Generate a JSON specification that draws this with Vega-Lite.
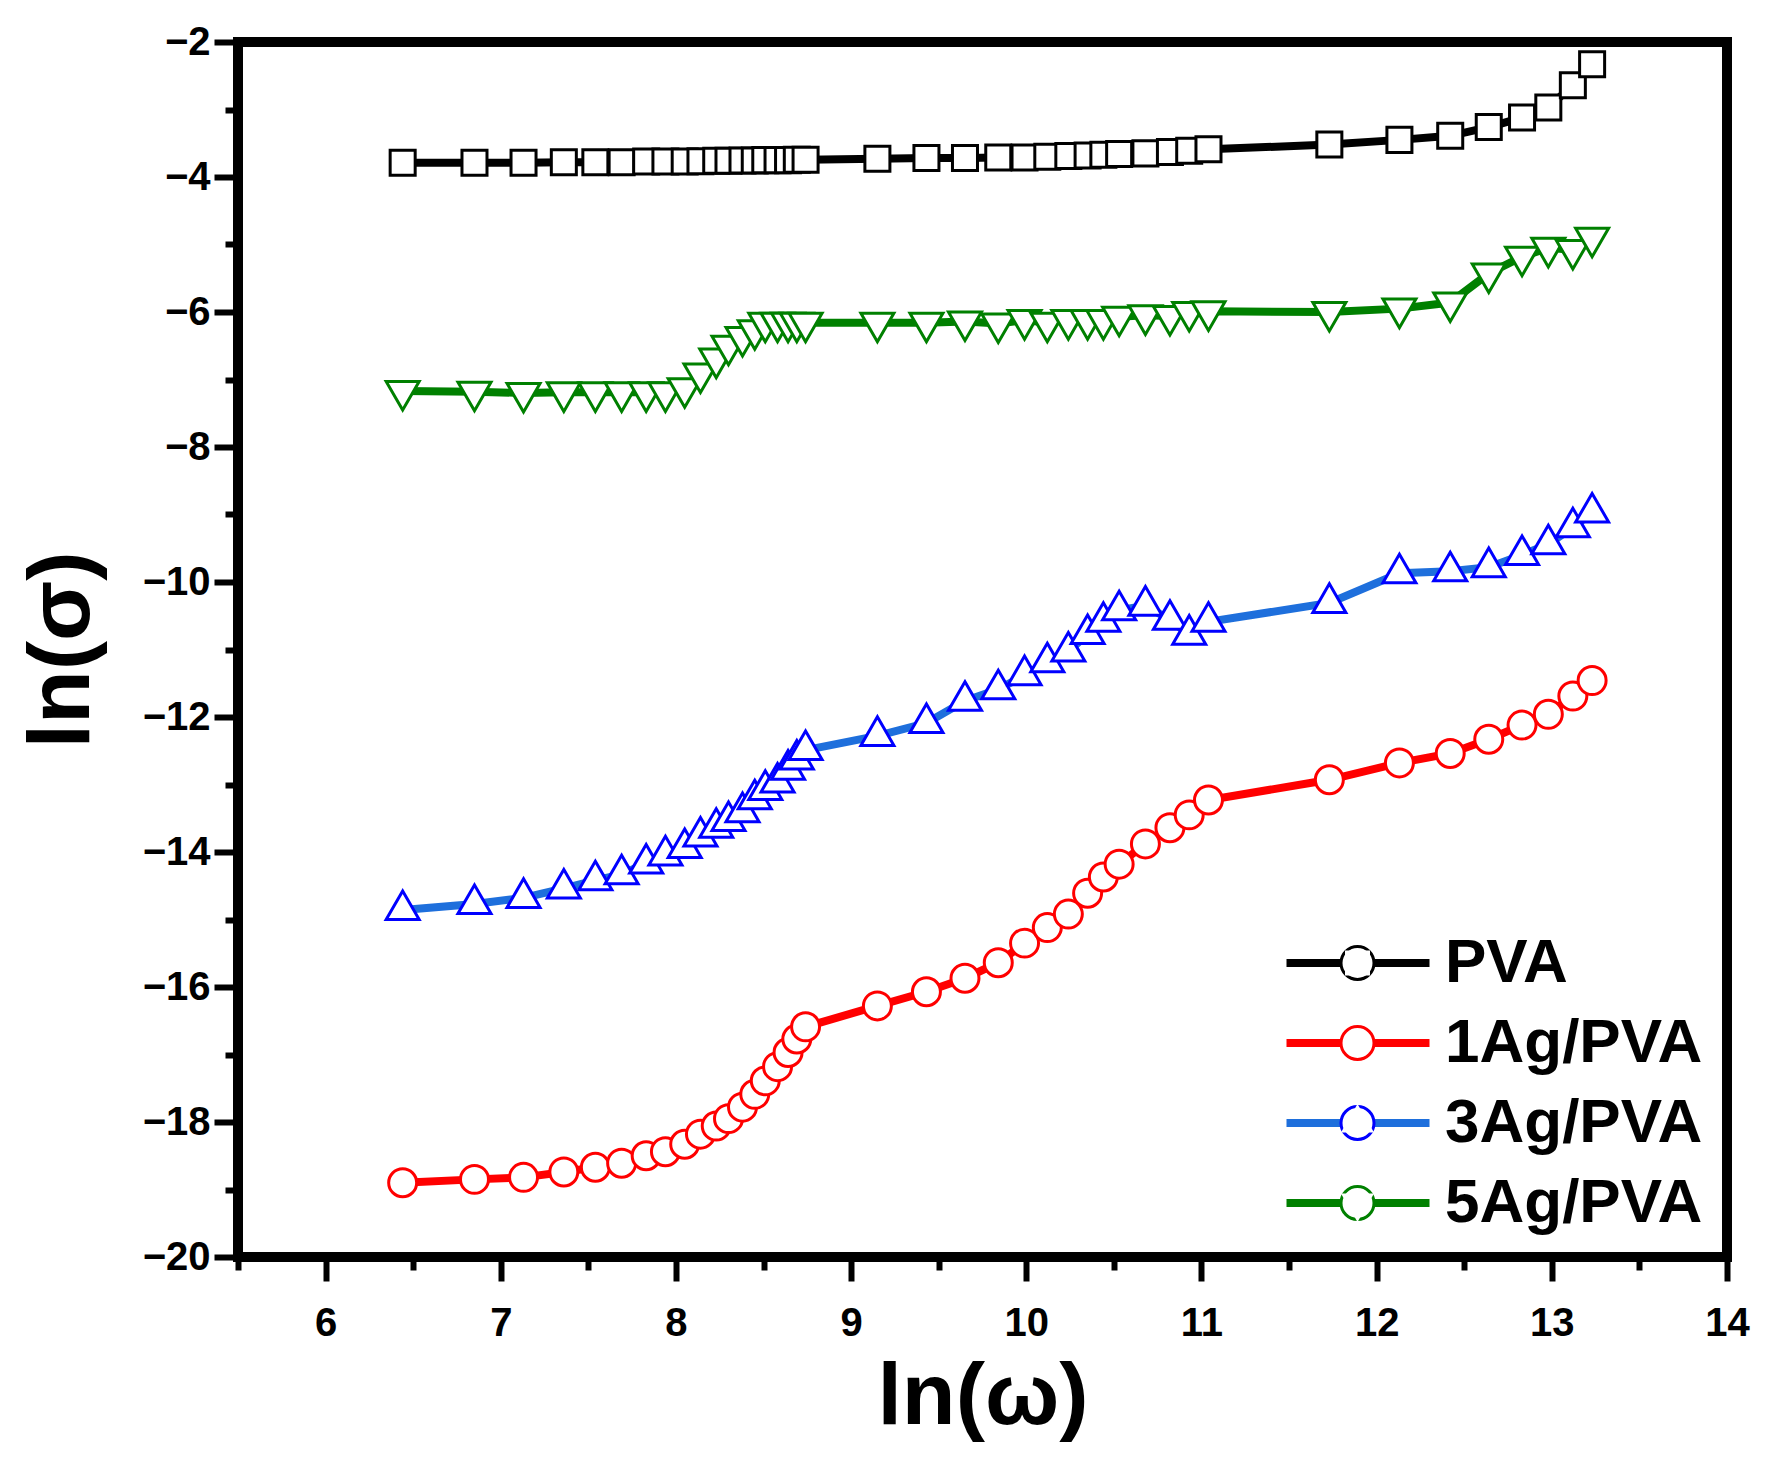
{
  "$schema": "https://vega.github.io/schema/vega-lite/v6.json",
  "autosize": {"type": "none"},
  "padding": {"left": 238, "top": 42, "right": 38, "bottom": 205},
  "width": 1489,
  "height": 1215,
  "background": "white",
  "config": {
    "font": "Liberation Sans",
    "view": {"stroke": "black", "strokeWidth": 10},
    "axis": {"grid": false, "domain": false, "tickColor": "black", "tickWidth": 6, "labelColor": "black", "labelFont": "Liberation Sans", "labelFontSize": 40, "labelFontWeight": "bold", "titleFont": "Liberation Sans", "titleFontWeight": "bold", "titleFontSize": 88, "titleColor": "black", "labelOverlap": false, "labelFlush": false}
  },
  "data": {"values": [
    {"sample":"PVA","lnw":6.44,"lns":-3.79},{"sample":"PVA","lnw":6.85,"lns":-3.79},{"sample":"PVA","lnw":7.13,"lns":-3.79},{"sample":"PVA","lnw":7.36,"lns":-3.78},{"sample":"PVA","lnw":7.54,"lns":-3.78},{"sample":"PVA","lnw":7.69,"lns":-3.78},{"sample":"PVA","lnw":7.83,"lns":-3.77},{"sample":"PVA","lnw":7.94,"lns":-3.77},{"sample":"PVA","lnw":8.05,"lns":-3.77},{"sample":"PVA","lnw":8.14,"lns":-3.765},{"sample":"PVA","lnw":8.23,"lns":-3.76},{"sample":"PVA","lnw":8.30,"lns":-3.76},{"sample":"PVA","lnw":8.38,"lns":-3.755},{"sample":"PVA","lnw":8.45,"lns":-3.755},{"sample":"PVA","lnw":8.51,"lns":-3.75},{"sample":"PVA","lnw":8.58,"lns":-3.75},{"sample":"PVA","lnw":8.64,"lns":-3.75},{"sample":"PVA","lnw":8.69,"lns":-3.745},{"sample":"PVA","lnw":8.74,"lns":-3.745},
    {"sample":"PVA","lnw":9.15,"lns":-3.73},{"sample":"PVA","lnw":9.43,"lns":-3.72},{"sample":"PVA","lnw":9.65,"lns":-3.72},{"sample":"PVA","lnw":9.84,"lns":-3.71},{"sample":"PVA","lnw":9.99,"lns":-3.71},{"sample":"PVA","lnw":10.12,"lns":-3.70},{"sample":"PVA","lnw":10.24,"lns":-3.69},{"sample":"PVA","lnw":10.35,"lns":-3.68},{"sample":"PVA","lnw":10.44,"lns":-3.67},{"sample":"PVA","lnw":10.53,"lns":-3.66},{"sample":"PVA","lnw":10.68,"lns":-3.65},{"sample":"PVA","lnw":10.82,"lns":-3.63},{"sample":"PVA","lnw":10.93,"lns":-3.61},{"sample":"PVA","lnw":11.04,"lns":-3.59},
    {"sample":"PVA","lnw":11.73,"lns":-3.52},{"sample":"PVA","lnw":12.13,"lns":-3.45},{"sample":"PVA","lnw":12.42,"lns":-3.39},{"sample":"PVA","lnw":12.64,"lns":-3.26},{"sample":"PVA","lnw":12.83,"lns":-3.12},{"sample":"PVA","lnw":12.98,"lns":-2.97},{"sample":"PVA","lnw":13.12,"lns":-2.64},{"sample":"PVA","lnw":13.23,"lns":-2.33},

    {"sample":"1Ag/PVA","lnw":6.44,"lns":-18.90},{"sample":"1Ag/PVA","lnw":6.85,"lns":-18.85},{"sample":"1Ag/PVA","lnw":7.13,"lns":-18.82},{"sample":"1Ag/PVA","lnw":7.36,"lns":-18.74},{"sample":"1Ag/PVA","lnw":7.54,"lns":-18.67},{"sample":"1Ag/PVA","lnw":7.69,"lns":-18.61},{"sample":"1Ag/PVA","lnw":7.83,"lns":-18.50},{"sample":"1Ag/PVA","lnw":7.94,"lns":-18.44},{"sample":"1Ag/PVA","lnw":8.05,"lns":-18.33},{"sample":"1Ag/PVA","lnw":8.14,"lns":-18.18},{"sample":"1Ag/PVA","lnw":8.23,"lns":-18.06},{"sample":"1Ag/PVA","lnw":8.30,"lns":-17.95},{"sample":"1Ag/PVA","lnw":8.38,"lns":-17.78},{"sample":"1Ag/PVA","lnw":8.45,"lns":-17.59},{"sample":"1Ag/PVA","lnw":8.51,"lns":-17.39},{"sample":"1Ag/PVA","lnw":8.58,"lns":-17.18},{"sample":"1Ag/PVA","lnw":8.64,"lns":-16.97},{"sample":"1Ag/PVA","lnw":8.69,"lns":-16.77},{"sample":"1Ag/PVA","lnw":8.74,"lns":-16.59},
    {"sample":"1Ag/PVA","lnw":9.15,"lns":-16.28},{"sample":"1Ag/PVA","lnw":9.43,"lns":-16.07},{"sample":"1Ag/PVA","lnw":9.65,"lns":-15.87},{"sample":"1Ag/PVA","lnw":9.84,"lns":-15.64},{"sample":"1Ag/PVA","lnw":9.99,"lns":-15.35},{"sample":"1Ag/PVA","lnw":10.12,"lns":-15.12},{"sample":"1Ag/PVA","lnw":10.24,"lns":-14.92},{"sample":"1Ag/PVA","lnw":10.35,"lns":-14.61},{"sample":"1Ag/PVA","lnw":10.44,"lns":-14.37},{"sample":"1Ag/PVA","lnw":10.53,"lns":-14.18},{"sample":"1Ag/PVA","lnw":10.68,"lns":-13.88},{"sample":"1Ag/PVA","lnw":10.82,"lns":-13.64},{"sample":"1Ag/PVA","lnw":10.93,"lns":-13.45},{"sample":"1Ag/PVA","lnw":11.04,"lns":-13.23},
    {"sample":"1Ag/PVA","lnw":11.73,"lns":-12.93},{"sample":"1Ag/PVA","lnw":12.13,"lns":-12.68},{"sample":"1Ag/PVA","lnw":12.42,"lns":-12.54},{"sample":"1Ag/PVA","lnw":12.64,"lns":-12.33},{"sample":"1Ag/PVA","lnw":12.83,"lns":-12.12},{"sample":"1Ag/PVA","lnw":12.98,"lns":-11.96},{"sample":"1Ag/PVA","lnw":13.12,"lns":-11.69},{"sample":"1Ag/PVA","lnw":13.23,"lns":-11.46},

    {"sample":"3Ag/PVA","lnw":6.44,"lns":-14.86},{"sample":"3Ag/PVA","lnw":6.85,"lns":-14.77},{"sample":"3Ag/PVA","lnw":7.13,"lns":-14.68},{"sample":"3Ag/PVA","lnw":7.36,"lns":-14.54},{"sample":"3Ag/PVA","lnw":7.54,"lns":-14.42},{"sample":"3Ag/PVA","lnw":7.69,"lns":-14.33},{"sample":"3Ag/PVA","lnw":7.83,"lns":-14.17},{"sample":"3Ag/PVA","lnw":7.94,"lns":-14.05},{"sample":"3Ag/PVA","lnw":8.05,"lns":-13.94},{"sample":"3Ag/PVA","lnw":8.14,"lns":-13.77},{"sample":"3Ag/PVA","lnw":8.23,"lns":-13.64},{"sample":"3Ag/PVA","lnw":8.30,"lns":-13.54},{"sample":"3Ag/PVA","lnw":8.38,"lns":-13.41},{"sample":"3Ag/PVA","lnw":8.45,"lns":-13.22},{"sample":"3Ag/PVA","lnw":8.51,"lns":-13.08},{"sample":"3Ag/PVA","lnw":8.58,"lns":-12.97},{"sample":"3Ag/PVA","lnw":8.64,"lns":-12.78},{"sample":"3Ag/PVA","lnw":8.69,"lns":-12.63},{"sample":"3Ag/PVA","lnw":8.74,"lns":-12.49},
    {"sample":"3Ag/PVA","lnw":9.15,"lns":-12.28},{"sample":"3Ag/PVA","lnw":9.43,"lns":-12.09},{"sample":"3Ag/PVA","lnw":9.65,"lns":-11.76},{"sample":"3Ag/PVA","lnw":9.84,"lns":-11.59},{"sample":"3Ag/PVA","lnw":9.99,"lns":-11.38},{"sample":"3Ag/PVA","lnw":10.12,"lns":-11.19},{"sample":"3Ag/PVA","lnw":10.24,"lns":-11.03},{"sample":"3Ag/PVA","lnw":10.35,"lns":-10.77},{"sample":"3Ag/PVA","lnw":10.44,"lns":-10.59},{"sample":"3Ag/PVA","lnw":10.53,"lns":-10.42},{"sample":"3Ag/PVA","lnw":10.68,"lns":-10.35},{"sample":"3Ag/PVA","lnw":10.82,"lns":-10.56},{"sample":"3Ag/PVA","lnw":10.93,"lns":-10.78},{"sample":"3Ag/PVA","lnw":11.04,"lns":-10.59},
    {"sample":"3Ag/PVA","lnw":11.73,"lns":-10.31},{"sample":"3Ag/PVA","lnw":12.13,"lns":-9.87},{"sample":"3Ag/PVA","lnw":12.42,"lns":-9.84},{"sample":"3Ag/PVA","lnw":12.64,"lns":-9.78},{"sample":"3Ag/PVA","lnw":12.83,"lns":-9.60},{"sample":"3Ag/PVA","lnw":12.98,"lns":-9.44},{"sample":"3Ag/PVA","lnw":13.12,"lns":-9.19},{"sample":"3Ag/PVA","lnw":13.23,"lns":-8.97},

    {"sample":"5Ag/PVA","lnw":6.44,"lns":-7.17},{"sample":"5Ag/PVA","lnw":6.85,"lns":-7.18},{"sample":"5Ag/PVA","lnw":7.13,"lns":-7.20},{"sample":"5Ag/PVA","lnw":7.36,"lns":-7.19},{"sample":"5Ag/PVA","lnw":7.54,"lns":-7.19},{"sample":"5Ag/PVA","lnw":7.69,"lns":-7.19},{"sample":"5Ag/PVA","lnw":7.83,"lns":-7.19},{"sample":"5Ag/PVA","lnw":7.94,"lns":-7.19},{"sample":"5Ag/PVA","lnw":8.05,"lns":-7.13},{"sample":"5Ag/PVA","lnw":8.14,"lns":-6.91},{"sample":"5Ag/PVA","lnw":8.23,"lns":-6.69},{"sample":"5Ag/PVA","lnw":8.30,"lns":-6.50},{"sample":"5Ag/PVA","lnw":8.38,"lns":-6.37},{"sample":"5Ag/PVA","lnw":8.45,"lns":-6.27},{"sample":"5Ag/PVA","lnw":8.51,"lns":-6.16},{"sample":"5Ag/PVA","lnw":8.58,"lns":-6.16},{"sample":"5Ag/PVA","lnw":8.64,"lns":-6.16},{"sample":"5Ag/PVA","lnw":8.69,"lns":-6.16},{"sample":"5Ag/PVA","lnw":8.74,"lns":-6.16},
    {"sample":"5Ag/PVA","lnw":9.15,"lns":-6.16},{"sample":"5Ag/PVA","lnw":9.43,"lns":-6.16},{"sample":"5Ag/PVA","lnw":9.65,"lns":-6.14},{"sample":"5Ag/PVA","lnw":9.84,"lns":-6.17},{"sample":"5Ag/PVA","lnw":9.99,"lns":-6.12},{"sample":"5Ag/PVA","lnw":10.12,"lns":-6.16},{"sample":"5Ag/PVA","lnw":10.24,"lns":-6.12},{"sample":"5Ag/PVA","lnw":10.35,"lns":-6.12},{"sample":"5Ag/PVA","lnw":10.44,"lns":-6.12},{"sample":"5Ag/PVA","lnw":10.53,"lns":-6.07},{"sample":"5Ag/PVA","lnw":10.68,"lns":-6.05},{"sample":"5Ag/PVA","lnw":10.82,"lns":-6.06},{"sample":"5Ag/PVA","lnw":10.93,"lns":-6.00},{"sample":"5Ag/PVA","lnw":11.04,"lns":-5.99},
    {"sample":"5Ag/PVA","lnw":11.73,"lns":-6.00},{"sample":"5Ag/PVA","lnw":12.13,"lns":-5.95},{"sample":"5Ag/PVA","lnw":12.42,"lns":-5.86},{"sample":"5Ag/PVA","lnw":12.64,"lns":-5.43},{"sample":"5Ag/PVA","lnw":12.83,"lns":-5.18},{"sample":"5Ag/PVA","lnw":12.98,"lns":-5.05},{"sample":"5Ag/PVA","lnw":13.12,"lns":-5.08},{"sample":"5Ag/PVA","lnw":13.23,"lns":-4.90}
  ]},
  "encoding": {
    "x": {"field": "lnw", "type": "quantitative", "scale": {"domain": [5.5, 14], "nice": false, "zero": false},
      "axis": {"title": "ln(ω)", "values": [5.5,6,6.5,7,7.5,8,8.5,9,9.5,10,10.5,11,11.5,12,12.5,13,13.5,14],
        "tickSize": {"condition": {"test": "datum.value % 1 !== 0", "value": 13}, "value": 24},
        "labelExpr": "datum.value % 1 === 0 ? format(datum.value, 'd') : ''",
        "labelPadding": 22, "titleX": 744.5, "titleY": 140, "titleBaseline": "middle", "titleAlign": "center"}},
    "y": {"field": "lns", "type": "quantitative", "scale": {"domain": [-20, -2], "nice": false, "zero": false},
      "axis": {"title": "ln(σ)", "format": "d", "values": [-20,-19,-18,-17,-16,-15,-14,-13,-12,-11,-10,-9,-8,-7,-6,-5,-4,-3,-2],
        "tickSize": {"condition": {"test": "datum.value % 2 !== 0", "value": 13}, "value": 24},
        "labelExpr": "datum.value % 2 === 0 ? datum.label : ''",
        "labelPadding": 4, "titleX": -176, "titleY": 607.5, "titleAngle": -90, "titleBaseline": "middle", "titleAlign": "center"}}
  },
  "layer": [
    {
      "mark": {"type": "line", "strokeWidth": 8},
      "encoding": {
        "stroke": {"field": "sample", "type": "nominal",
          "scale": {"domain": ["PVA", "1Ag/PVA", "3Ag/PVA", "5Ag/PVA"], "range": ["#000000", "#FF0000", "#1E6FDC", "#008000"]},
          "legend": {"title": null, "orient": "none", "legendX": 1044.5, "legendY": 890, "padding": 0, "zindex": 0,
            "symbolType": "stroke", "symbolSize": 20449, "symbolStrokeWidth": 8,
            "labelFont": "Liberation Sans", "labelFontSize": 62, "labelFontWeight": "bold", "labelColor": "black", "labelLimit": 500,
            "labelOffset": 11.5, "rowPadding": 18, "clipHeight": 62}}
      }
    },
    {
      "mark": {"type": "point", "filled": false, "fill": "white", "strokeWidth": 3, "size": 1089, "opacity": 1},
      "encoding": {
        "color": {"field": "sample", "type": "nominal", "sort": ["PVA", "1Ag/PVA", "3Ag/PVA", "5Ag/PVA"],
          "scale": {"range": ["#000000", "#FF0000", "#0000FF", "#008000"]},
          "legend": {"title": null, "orient": "none", "legendX": 1088.5, "legendY": 890, "padding": 0, "zindex": 1,
            "symbolSize": 1089, "symbolStrokeWidth": 3, "symbolFillColor": "white", "symbolOpacity": 1,
            "labelFontSize": 62, "labelExpr": "''", "rowPadding": 18, "clipHeight": 62,
            "encode": {"symbols": {"shape": {"condition": [
              {"test": "datum.value === 'PVA'", "value": "M-0.758,-0.758L0.758,-0.758L0.758,0.758L-0.758,0.758Z"},
              {"test": "datum.value === '1Ag/PVA'", "value": "M-0.848,0A0.848,0.848,0,1,0,0.848,0A0.848,0.848,0,1,0,-0.848,0Z"},
              {"test": "datum.value === '3Ag/PVA'", "value": "M0,-1.155L1,0.577L-1,0.577Z"}
            ], "value": "M-1,-0.577L1,-0.577L0,1.155Z"}}}}},
        "shape": {"field": "sample", "type": "nominal", "sort": ["PVA", "1Ag/PVA", "3Ag/PVA", "5Ag/PVA"],
          "scale": {
            "range": ["M-0.758,-0.758L0.758,-0.758L0.758,0.758L-0.758,0.758Z",
                      "M-0.848,0A0.848,0.848,0,1,0,0.848,0A0.848,0.848,0,1,0,-0.848,0Z",
                      "M0,-1.155L1,0.577L-1,0.577Z",
                      "M-1,-0.577L1,-0.577L0,1.155Z"]},
          "legend": {"title": null, "orient": "none", "legendX": 1088.5, "legendY": 890, "padding": 0, "zindex": 1,
            "symbolSize": 1089, "symbolStrokeWidth": 3, "symbolFillColor": "white", "symbolOpacity": 1,
            "labelFontSize": 62, "labelExpr": "''", "rowPadding": 18, "clipHeight": 62,
            "encode": {"symbols": {"shape": {"condition": [
              {"test": "datum.value === 'PVA'", "value": "M-0.758,-0.758L0.758,-0.758L0.758,0.758L-0.758,0.758Z"},
              {"test": "datum.value === '1Ag/PVA'", "value": "M-0.848,0A0.848,0.848,0,1,0,0.848,0A0.848,0.848,0,1,0,-0.848,0Z"},
              {"test": "datum.value === '3Ag/PVA'", "value": "M0,-1.155L1,0.577L-1,0.577Z"}
            ], "value": "M-1,-0.577L1,-0.577L0,1.155Z"}}}}}
      }
    }
  ]
}
